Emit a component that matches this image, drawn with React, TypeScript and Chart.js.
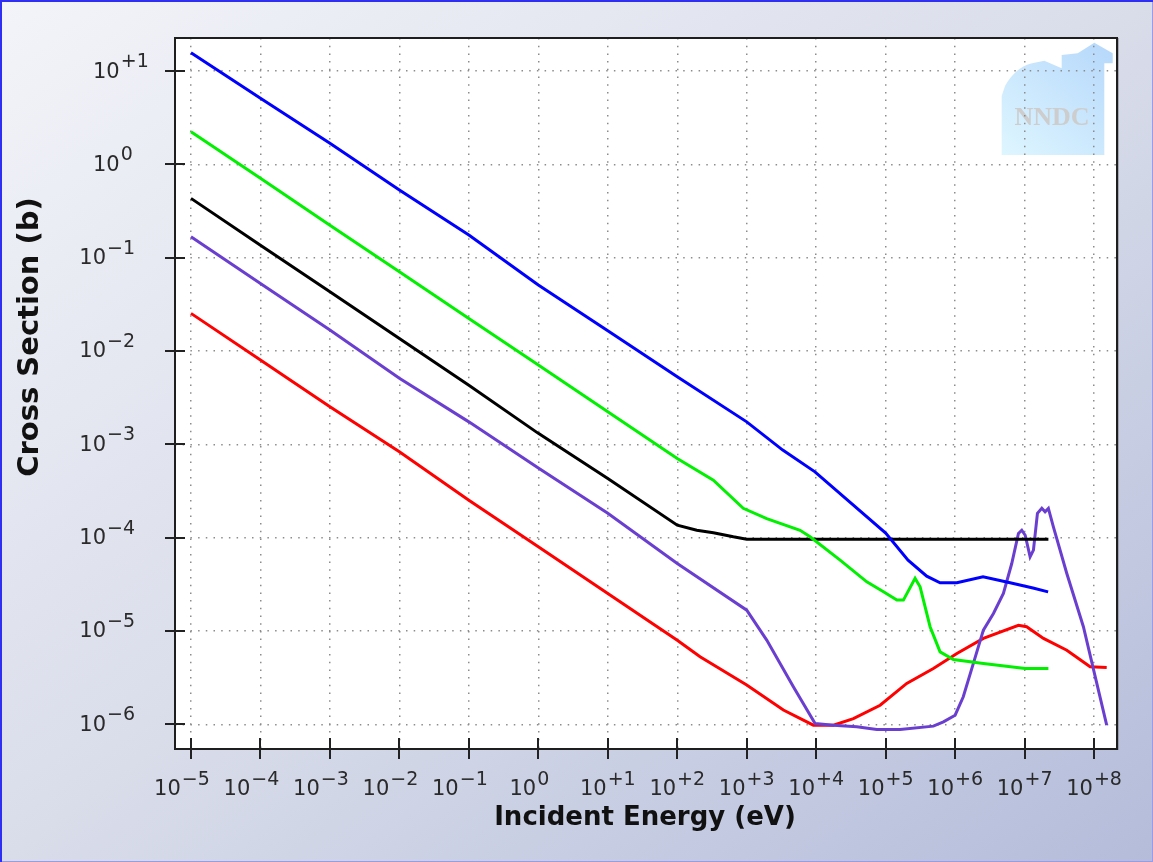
import React, { useEffect, useRef } from "react";
import { Chart, registerables } from "chart.js";

Chart.register(...registerables);

// Decade ticks on both axes (exponents of ten)
const energyExponents = [-5, -4, -3, -2, -1, 0, 1, 2, 3, 4, 5, 6, 7, 8];
const sigmaExponents = [-6, -5, -4, -3, -2, -1, 0, 1];

const xMin = Math.pow(10, -5.23);
const xMax = Math.pow(10, 8.33);
const yMin = Math.pow(10, -6.265);
const yMax = Math.pow(10, 1.354);

// Incident energy (eV) and cross section (b) for each curve
const blueEnergy = [1e-5, 1e-4, 1e-3, 1e-2, 1e-1, 1, 10, 100, 1000, 3.3e3, 9.6e3, 1e5, 2.1e5, 3.9e5, 6.07e5, 1.06e6, 2.52e6, 6.18e6, 1.32e7, 2.18e7];
const blueSigma = [15.7, 5.1, 1.68, 0.53, 0.175, 0.051, 0.0165, 0.0053, 0.00174, 8.67e-4, 5.07e-4, 1.12e-4, 5.74e-5, 3.86e-5, 3.28e-5, 3.28e-5, 3.8e-5, 3.28e-5, 2.88e-5, 2.62e-5];

const greenEnergy = [1e-5, 1e-4, 1e-3, 1e-2, 1e-1, 1, 10, 100, 331, 891, 1.94e3, 5.86e3, 8.17e3, 2.21e4, 5.35e4, 9.3e4, 1.45e5, 1.8e5, 2.65e5, 3.13e5, 4.36e5, 6.07e5, 9.44e5, 2.55e6, 1.02e7, 2.2e7];
const greenSigma = [2.23, 0.708, 0.223, 0.0706, 0.0223, 0.00706, 0.00223, 7.06e-4, 4.13e-4, 2.06e-4, 1.6e-4, 1.2e-4, 1.02e-4, 5.74e-5, 3.36e-5, 2.63e-5, 2.14e-5, 2.14e-5, 3.66e-5, 2.97e-5, 1.11e-5, 5.97e-6, 4.95e-6, 4.49e-6, 3.96e-6, 3.96e-6];

const blackEnergy = [1e-5, 1e-4, 1e-3, 1e-2, 1e-1, 1, 10, 100, 191, 331, 641, 1000, 2.2e7];
const blackSigma = [0.432, 0.136, 0.0432, 0.0136, 4.3e-3, 1.31e-3, 4.3e-4, 1.36e-4, 1.2e-4, 1.13e-4, 1.02e-4, 9.6e-5, 9.6e-5];

const purpleEnergy = [1e-5, 1e-4, 1e-3, 1e-2, 1e-1, 1, 10, 100, 1000, 1.94e3, 4.69e3, 9.64e3, 1.77e4, 3.84e4, 7.45e4, 1.61e5, 4.86e5, 6.78e5, 1e6, 1.31e6, 1.83e6, 2.55e6, 3.56e6, 4.95e6, 6.53e6, 8.15e6, 9.1e6, 1.02e7, 1.2e7, 1.34e7, 1.53e7, 1.77e7, 1.97e7, 2.2e7, 2.59e7, 4.05e7, 7.02e7, 1.04e8, 1.52e8];
const purpleSigma = [0.168, 0.053, 0.0168, 5.1e-3, 1.74e-3, 5.56e-4, 1.82e-4, 5.28e-5, 1.67e-5, 7.98e-6, 2.52e-6, 1.02e-6, 9.77e-7, 9.38e-7, 8.79e-7, 8.79e-7, 9.55e-7, 1.06e-6, 1.25e-6, 1.97e-6, 4.49e-6, 1.02e-5, 1.54e-5, 2.52e-5, 5.28e-5, 1.11e-4, 1.2e-4, 1.06e-4, 6.22e-5, 7.35e-5, 1.82e-4, 2.06e-4, 1.89e-4, 2.06e-4, 1.31e-4, 4.13e-5, 1.11e-5, 3.22e-6, 9.77e-7];

const redEnergy = [1e-5, 1e-4, 1e-3, 1e-2, 1e-1, 1, 10, 100, 213, 1000, 3.37e3, 9.1e3, 1.77e4, 3.43e4, 8.32e4, 2.01e5, 4.86e5, 1.06e6, 2.55e6, 8.15e6, 1.07e7, 1.87e7, 4.05e7, 8.77e7, 1.52e8];
const redSigma = [0.0253, 8.0e-3, 2.52e-3, 8.3e-4, 2.52e-4, 7.98e-5, 2.52e-5, 7.96e-6, 5.28e-6, 2.63e-6, 1.42e-6, 9.77e-7, 9.77e-7, 1.15e-6, 1.6e-6, 2.74e-6, 3.96e-6, 5.74e-6, 8.32e-6, 1.15e-5, 1.11e-5, 8.32e-6, 6.22e-6, 4.13e-6, 4.06e-6];

const seriesList = [
  { name: "blue", color: "#0000ff", energy: blueEnergy, sigma: blueSigma },
  { name: "green", color: "#00f000", energy: greenEnergy, sigma: greenSigma },
  { name: "black", color: "#000000", energy: blackEnergy, sigma: blackSigma },
  { name: "purple", color: "#6a3fd0", energy: purpleEnergy, sigma: purpleSigma },
  { name: "red", color: "#ff0000", energy: redEnergy, sigma: redSigma },
];

const xTitle = "Incident Energy (eV)";
const yTitle = "Cross Section (b)";

const baseFont = "21px 'DejaVu Sans', sans-serif";
const supFont = "19px 'DejaVu Sans', sans-serif";

function expText(e: number) {
  if (e > 0) return "+" + e;
  if (e === 0) return "0";
  return "\u2212" + -e;
}

function powerWidth(ctx: CanvasRenderingContext2D, e: number) {
  ctx.font = baseFont;
  const w1 = ctx.measureText("10").width;
  ctx.font = supFont;
  const w2 = ctx.measureText(expText(e)).width;
  return { w1, w2, total: w1 + 1 + w2 };
}

function drawPower(ctx: CanvasRenderingContext2D, left: number, baseline: number, supBaseline: number, e: number) {
  const { w1 } = powerWidth(ctx, e);
  ctx.textAlign = "left";
  ctx.textBaseline = "alphabetic";
  ctx.font = baseFont;
  ctx.fillText("10", left, baseline);
  ctx.font = supFont;
  ctx.fillText(expText(e), left + w1 + 1, supBaseline);
}

const framePlugin = {
  id: "nndcFrame",
  beforeDraw(chart: any) {
    const { ctx, chartArea: a } = chart;
    ctx.save();
    ctx.fillStyle = "#ffffff";
    ctx.fillRect(a.left, a.top, a.right - a.left, a.bottom - a.top);

    // NNDC watermark in the upper-right corner
    const ox = a.right - 116;
    const oy = a.top;
    ctx.beginPath();
    ctx.moveTo(ox + 0.7, oy + 117);
    ctx.lineTo(ox + 0.7, oy + 58);
    ctx.lineTo(ox + 4, oy + 48);
    ctx.quadraticCurveTo(ox + 14, oy + 30, ox + 30, oy + 25.5);
    ctx.lineTo(ox + 43.3, oy + 22.7);
    ctx.lineTo(ox + 60.7, oy + 30.3);
    ctx.lineTo(ox + 60.7, oy + 17);
    ctx.lineTo(ox + 76.7, oy + 15.3);
    ctx.lineTo(ox + 93.3, oy + 4.7);
    ctx.lineTo(ox + 111.7, oy + 15.3);
    ctx.lineTo(ox + 111.7, oy + 25.3);
    ctx.lineTo(ox + 103.3, oy + 25.3);
    ctx.lineTo(ox + 103.3, oy + 117);
    ctx.closePath();
    const g = ctx.createLinearGradient(ox + 100, oy, ox, oy + 117);
    g.addColorStop(0, "#b6d8fb");
    g.addColorStop(1, "#def6ff");
    ctx.fillStyle = g;
    ctx.fill();
    ctx.fillStyle = "#cdcdcd";
    ctx.font = "bold 26px 'Liberation Serif', serif";
    ctx.textAlign = "center";
    ctx.textBaseline = "alphabetic";
    ctx.fillText("NNDC", ox + 51, oy + 87);
    ctx.restore();
  },
  afterDatasetsDraw(chart: any) {
    const { ctx, chartArea: a, scales } = chart;
    ctx.save();
    ctx.strokeStyle = "#1e1e1e";
    ctx.lineWidth = 2;
    ctx.strokeRect(a.left, a.top, a.right - a.left, a.bottom - a.top);
    ctx.strokeStyle = "rgba(120,120,120,0.5)";
    ctx.lineWidth = 1;
    ctx.beginPath();
    ctx.moveTo(a.right + 1.5, a.top);
    ctx.lineTo(a.right + 1.5, a.bottom + 1);
    ctx.stroke();

    // tick marks crossing the axes
    ctx.strokeStyle = "#222222";
    ctx.lineWidth = 2;
    ctx.beginPath();
    energyExponents.forEach((e) => {
      const x = Math.round(scales.x.getPixelForValue(Math.pow(10, e)));
      ctx.moveTo(x, a.bottom - 11);
      ctx.lineTo(x, a.bottom + 10);
    });
    sigmaExponents.forEach((e) => {
      const y = Math.round(scales.y.getPixelForValue(Math.pow(10, e)));
      ctx.moveTo(a.left - 10, y);
      ctx.lineTo(a.left + 10, y);
    });
    ctx.stroke();

    // tick labels with raised exponents
    ctx.fillStyle = "#2a2a2a";
    energyExponents.forEach((e) => {
      const x = scales.x.getPixelForValue(Math.pow(10, e));
      const { total } = powerWidth(ctx, e);
      const cx = e > 0 ? x : x - 9;
      drawPower(ctx, cx - total / 2, a.bottom + 45.5, a.bottom + 36, e);
    });
    sigmaExponents.forEach((e) => {
      const y = scales.y.getPixelForValue(Math.pow(10, e));
      const { total } = powerWidth(ctx, e);
      const left = e >= 0 ? a.left - 82 : a.left - 40 - total;
      drawPower(ctx, left, y + 6.5, y - 4, e);
    });

    // axis titles
    ctx.fillStyle = "#111111";
    ctx.font = "bold 26px 'DejaVu Sans', sans-serif";
    ctx.textAlign = "center";
    ctx.textBaseline = "alphabetic";
    ctx.fillText(xTitle, 645, a.bottom + 76);
    ctx.save();
    ctx.translate(38, 337);
    ctx.rotate(-Math.PI / 2);
    ctx.font = "bold 29px 'DejaVu Sans', sans-serif";
    ctx.fillText(yTitle, 0, 0);
    ctx.restore();
    ctx.restore();
  },
};

export default function App() {
  const canvasRef = useRef<HTMLCanvasElement | null>(null);

  useEffect(() => {
    const canvas = canvasRef.current;
    if (!canvas) return;
    const decadeTicks = (exps: number[]) => (scale: any) => {
      scale.ticks = exps.map((e) => ({ value: Math.pow(10, e) }));
    };
    const gridColor = "#8c8c8c";
    const chart = new Chart(canvas, {
      type: "line",
      data: {
        datasets: seriesList.map((s) => ({
          label: s.name,
          data: s.energy.map((x, i) => ({ x, y: s.sigma[i] })),
          borderColor: s.color,
          backgroundColor: s.color,
          borderWidth: 3,
          pointRadius: 0,
          tension: 0,
          fill: false,
        })),
      },
      options: {
        responsive: false,
        animation: false,
        events: [],
        layout: { padding: { left: 175, top: 38, right: 36, bottom: 113 } },
        plugins: { legend: { display: false }, tooltip: { enabled: false } },
        scales: {
          x: {
            type: "logarithmic",
            min: xMin,
            max: xMax,
            afterBuildTicks: decadeTicks(energyExponents),
            ticks: { display: false },
            grid: { color: gridColor, lineWidth: 1.5, drawTicks: false },
            border: { display: false, dash: [1.5, 6.2] },
          },
          y: {
            type: "logarithmic",
            min: yMin,
            max: yMax,
            afterBuildTicks: decadeTicks(sigmaExponents),
            ticks: { display: false },
            grid: { color: gridColor, lineWidth: 1.5, drawTicks: false },
            border: { display: false, dash: [1.5, 6.2] },
          },
        },
      },
      plugins: [framePlugin],
    });
    return () => chart.destroy();
  }, []);

  return (
    <div
      style={{
        position: "fixed",
        left: 0,
        top: 0,
        width: 1153,
        height: 862,
        background: "linear-gradient(to bottom right, #f3f4f9 0%, #d9ddea 50%, #b4bcda 100%)",
        boxShadow: "inset 2px 2px 0 #2f2ff2, inset -1px -1px 0 #9a9ae8",
      }}
    >
      <canvas ref={canvasRef} width={1153} height={862} style={{ display: "block" }} />
    </div>
  );
}
